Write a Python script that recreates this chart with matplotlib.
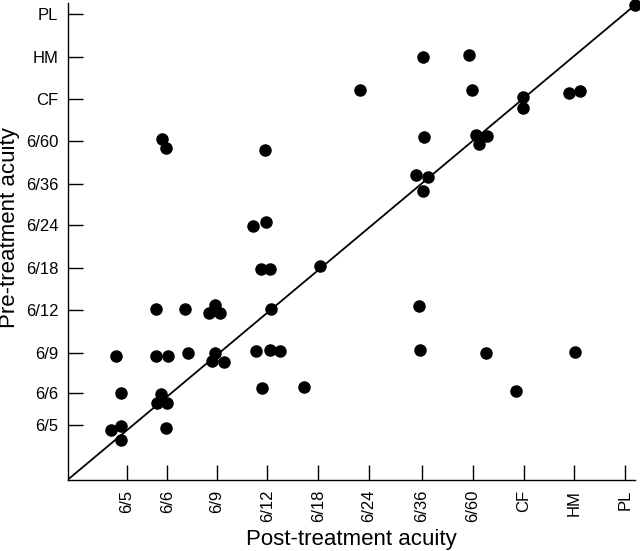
import matplotlib
matplotlib.use("Agg")
import matplotlib.pyplot as plt

plt.rcParams['font.family'] = ['Liberation Sans', 'DejaVu Sans']

# acuity scale labels (same on both axes)
acuity_labels = ['6/5', '6/6', '6/9', '6/12', '6/18', '6/24', '6/36',
                 '6/60', 'CF', 'HM', 'PL']
x_tick_pos = [1.17, 1.97, 2.94, 3.94, 4.95, 5.94, 6.99, 8.0, 9.0, 10.0, 11.0]
y_tick_pos = [1.29, 2.06, 3.0, 4.0, 5.0, 6.0, 6.97, 7.99, 8.98, 9.98, 10.99]

# one point per eye: post-treatment (x) vs pre-treatment (y) acuity
post = [1.74, 2.31, 0.95, 1.74, 1.99, 2.37, 1.06, 1.85, 1.76, 1.96,
        0.86, 1.06, 1.06, 1.94, 3.89, 3.66, 3.91, 3.82, 4.00, 4.98,
        2.90, 2.80, 3.00, 4.01, 2.91, 2.85, 3.08, 3.72, 3.99, 4.20,
        3.84, 4.67, 11.19, 7.01, 7.92, 7.98, 9.89, 10.11, 8.98, 8.98,
        7.03, 8.05, 8.27, 8.12, 6.87, 7.12, 7.01, 6.94, 6.95, 8.25,
        10.02, 8.84, 5.78, 1.86, 1.95]
pre = [4.03, 4.03, 2.93, 2.93, 2.92, 2.99, 2.04, 2.02, 1.81, 1.82,
       1.18, 1.26, 0.94, 1.22, 7.78, 5.98, 6.08, 4.98, 4.97, 5.05,
       4.13, 3.93, 3.93, 4.04, 3.00, 2.80, 2.79, 3.05, 3.07, 3.04,
       2.17, 2.19, 11.20, 9.97, 10.02, 9.20, 9.13, 9.18, 9.03, 8.77,
       8.08, 8.14, 8.12, 7.92, 7.19, 7.15, 6.82, 4.09, 3.07, 3.00,
       3.01, 2.10, 9.19, 8.04, 7.82]

fig = plt.figure(figsize=(6.4, 5.51), dpi=100)
ax = fig.add_axes([0.1055, 0.129, 0.887, 0.866])

# line of no change
ax.axline((0, 0), slope=1, color='black', lw=1.3)
ax.plot(post, pre, 'o', color='black', markersize=8, clip_on=False, zorder=3)

ax.set_xlim(0, 11.2)
ax.set_ylim(0, 11.25)
ax.set_xticks(x_tick_pos)
ax.set_xticklabels(acuity_labels, rotation=90, fontsize=12)
ax.set_yticks(y_tick_pos)
ax.set_yticklabels(acuity_labels, fontsize=12)
ax.tick_params(direction='in', length=10.5, width=1, pad=7)
ax.tick_params(axis='y', pad=6.5)

for s in ['top', 'right']:
    ax.spines[s].set_visible(False)
for s in ['left', 'bottom']:
    ax.spines[s].set_linewidth(1)

ax.set_xlabel('Post-treatment acuity', fontsize=16, labelpad=5)
ax.set_ylabel('Pre-treatment acuity', fontsize=16, labelpad=4, y=0.528)

fig.savefig('out.png', dpi=100)
